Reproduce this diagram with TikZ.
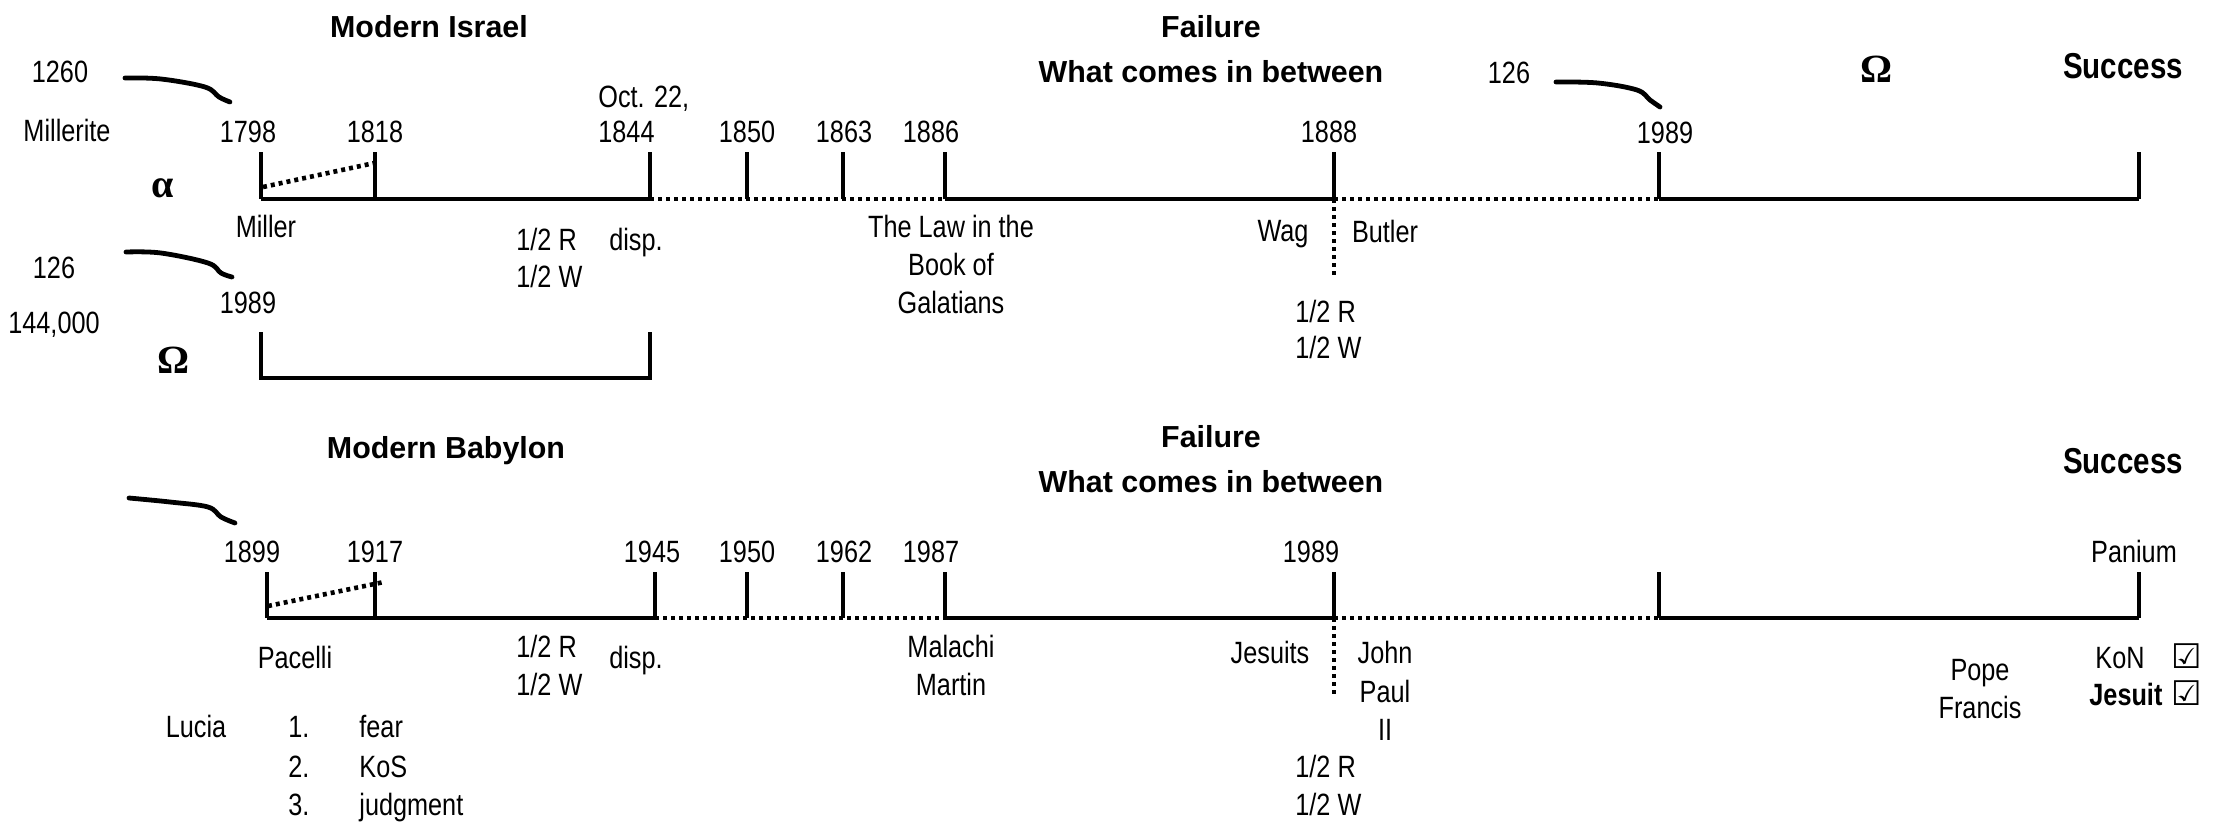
\documentclass[tikz,border=0pt]{standalone}
\usepackage{fontspec}
\newfontfamily\narrowfont{Liberation Sans}[FakeStretch=0.82]
\newfontfamily\regfont{Liberation Sans}
\newfontfamily\serifgr{Liberation Serif}
\newfontfamily\symfont{DejaVu Sans}
\newcommand\lab{\narrowfont\fontsize{15.4}{18.5}\selectfont}
\newcommand\headf{\regfont\bfseries\fontsize{15.2}{18.5}\selectfont}
\newcommand\succf{\narrowfont\bfseries\fontsize{18}{21}\selectfont}
\newcommand\grf{\serifgr\bfseries\fontsize{20}{24}\selectfont}
\tikzset{
  lbl/.style={inner sep=0pt, anchor=base, font=\lab},
  lblw/.style={inner sep=0pt, anchor=base west, font=\lab},
  head/.style={inner sep=0pt, anchor=base, font=\headf},
  succ/.style={inner sep=0pt, anchor=base, font=\succf},
  gr/.style={inner sep=0pt, anchor=base, font=\grf},
  chk/.style={inner sep=0pt, anchor=base west, font=\symfont\fontsize{17}{20}\selectfont},
  solidline/.style={line width=2pt},
  dotline/.style={line width=2.3pt, dash pattern=on 2pt off 2pt},
  hook/.style={line width=2.4pt, line cap=round},
}
\begin{document}
\begin{tikzpicture}[x=0.5pt,y=-0.5pt]
\useasboundingbox (0,0) rectangle (2216,826);

% ================= TOP: Modern Israel =================
\node[head] (hIsrael) at (429,37) {Modern Israel};
\node[head] (hFail1) at (1211,37) {Failure};
\node[head] (hBetw1) at (1211,82) {What comes in between};
\node[succ] (hSucc1) at (2123,78) {Success};
\node[gr] (omegaTop) at (1876,82) {Ω};

\node[lbl] (n1260) at (60,82) {1260};
\node[lbl] (millerite) at (67,141) {Millerite};
\node[gr] (alpha) at (163,197) {α};
\node[lbl] (y1798) at (248,142) {1798};
\node[lbl] (y1818) at (375,142) {1818};
\node[lblw] (oct) at (598,107) {Oct. 22,};
\node[lblw] (y1844) at (598,142) {1844};
\node[lbl] (y1850) at (747,142) {1850};
\node[lbl] (y1863) at (844,142) {1863};
\node[lbl] (y1886) at (931,142) {1886};
\node[lbl] (y1888) at (1329,142) {1888};
\node[lbl] (n126b) at (1509,83) {126};
\node[lbl] (y1989b) at (1665,143) {1989};

\node[lbl] (miller) at (266,237) {Miller};
\node[lblw] (rA) at (516,250) {1/2 R};
\node[lblw] (wA) at (516,287) {1/2 W};
\node[lbl] (dispA) at (636,250) {disp.};
\node[lbl] (law1) at (951,237) {The Law in the};
\node[lbl] (law2) at (951,275) {Book of};
\node[lbl] (law3) at (951,313) {Galatians};
\node[lbl] (wag) at (1283,241) {Wag};
\node[lbl] (butler) at (1385,242) {Butler};
\node[lblw] (rB) at (1295,322) {1/2 R};
\node[lblw] (wB) at (1295,358) {1/2 W};

\node[lbl] (n126a) at (54,278) {126};
\node[lbl] (n144) at (54,333) {144,000};
\node[lbl] (y1989a) at (248,313) {1989};
\node[gr] (omegaLow) at (174,373) {Ω};

% timeline coordinates (top)
\foreach \n/\x in {a/261,b/375,c/650,d/747,e/843,f/945,g/1334,h/1659,i/2139}{
  \coordinate (T\n) at (\x,199);
  \coordinate (T\n t) at (\x,152);
}
\draw[solidline] (Ta) -- (Tc);
\draw[dotline] (Tc) -- (Tf);
\draw[solidline] (Tf) -- (Tg);
\draw[dotline] (Tg) -- (Th);
\draw[solidline] (Th) -- (Ti);
\foreach \n in {a,b,c,d,e,f,g,h,i}{ \draw[solidline] (T\n) -- (T\n t); }
\coordinate (TdA) at (263,187);
\coordinate (TdB) at (379,162);
\draw[dotline] (TdA) -- (TdB);
\coordinate (TgV) at (1334,277);
\draw[dotline] (Tg) -- (TgV);

% lower omega bracket
\coordinate (La) at (261,378); \coordinate (Lat) at (261,332);
\coordinate (Lb) at (650,378); \coordinate (Lbt) at (650,332);
\draw[solidline] (Lat) -- (La) -- (Lb) -- (Lbt);

% hooks
\draw[hook] plot[smooth, tension=0.6] coordinates {(125,78) (161,79) (205,87) (219,97) (230,102)};
\draw[hook] plot[smooth, tension=0.6] coordinates {(126,252) (161,253) (208,263) (221,273) (232,277)};
\draw[hook] plot[smooth, tension=0.6] coordinates {(1556,82) (1598,83) (1637,90) (1650,100) (1660,107)};

% ================= BOTTOM: Modern Babylon =================
\node[head] (hBab) at (446,458) {Modern Babylon};
\node[head] (hFail2) at (1211,447) {Failure};
\node[head] (hBetw2) at (1211,492) {What comes in between};
\node[succ] (hSucc2) at (2123,473) {Success};

\node[lbl] (y1899) at (252,562) {1899};
\node[lbl] (y1917) at (375,562) {1917};
\node[lbl] (y1945) at (652,562) {1945};
\node[lbl] (y1950) at (747,562) {1950};
\node[lbl] (y1962) at (844,562) {1962};
\node[lbl] (y1987) at (931,562) {1987};
\node[lbl] (y1989c) at (1311,562) {1989};
\node[lbl] (panium) at (2134,562) {Panium};

\node[lbl] (pacelli) at (295,668) {Pacelli};
\node[lblw] (rC) at (516,657) {1/2 R};
\node[lblw] (wC) at (516,695) {1/2 W};
\node[lbl] (dispB) at (636,668) {disp.};
\node[lbl] (lucia) at (196,737) {Lucia};
\node[lblw] (i1) at (288,737) {1.};
\node[lblw] (i2) at (288,777) {2.};
\node[lblw] (i3) at (288,815) {3.};
\node[lblw] (fear) at (359,737) {fear};
\node[lblw] (kos) at (359,777) {KoS};
\node[lblw] (judg) at (359,815) {judgment};
\node[lbl] (mal1) at (951,657) {Malachi};
\node[lbl] (mal2) at (951,695) {Martin};
\node[lbl] (jesuits) at (1270,663) {Jesuits};
\node[lbl] (jp1) at (1385,663) {John};
\node[lbl] (jp2) at (1385,702) {Paul};
\node[lbl] (jp3) at (1385,740) {II};
\node[lblw] (rD) at (1295,777) {1/2 R};
\node[lblw] (wD) at (1295,815) {1/2 W};
\node[lbl] (pope1) at (1980,680) {Pope};
\node[lbl] (pope2) at (1980,718) {Francis};
\node[lblw] (kon) at (2095,668) {KoN};
\node[lblw, font=\lab\bfseries] (jes) at (2089,705) {Jesuit};
\node[chk] (chk1) at (2171,668) {☑};
\node[chk] (chk2) at (2171,705) {☑};

\foreach \n/\x in {a/267,b/375,c/655,d/747,e/843,f/945,g/1334,h/1659,i/2139}{
  \coordinate (B\n) at (\x,618);
  \coordinate (B\n t) at (\x,572);
}
\draw[solidline] (Ba) -- (Bc);
\draw[dotline] (Bc) -- (Bf);
\draw[solidline] (Bf) -- (Bg);
\draw[dotline] (Bg) -- (Bh);
\draw[solidline] (Bh) -- (Bi);
\foreach \n in {a,b,c,d,e,f,g,h,i}{ \draw[solidline] (B\n) -- (B\n t); }
\coordinate (BdA) at (268,606);
\coordinate (BdB) at (384,582);
\draw[dotline] (BdA) -- (BdB);
\coordinate (BgV) at (1334,697);
\draw[dotline] (Bg) -- (BgV);

\draw[hook] plot[smooth, tension=0.6] coordinates {(129,498) (170,502) (208,507) (221,517) (235,523)};
\end{tikzpicture}
\end{document}
